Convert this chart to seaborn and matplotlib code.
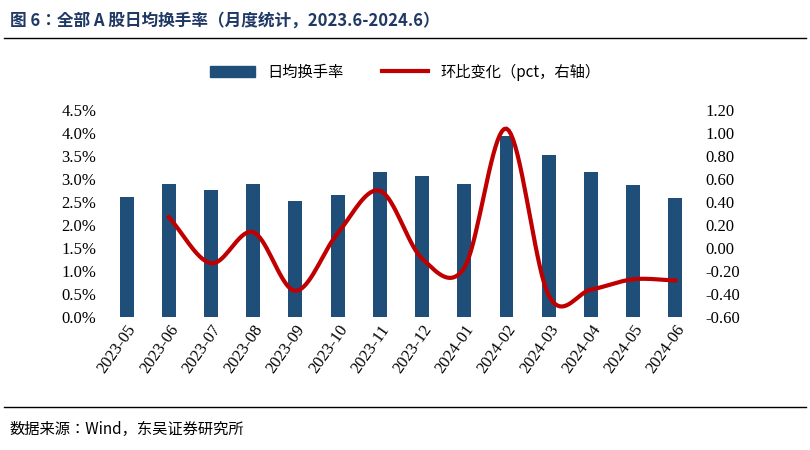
import numpy as np
import pandas as pd
import seaborn as sns
import matplotlib.pyplot as plt
from matplotlib.lines import Line2D

cjk = ['Noto Sans CJK SC', 'Noto Sans CJK JP', 'Noto Sans CJK TC', 'DejaVu Sans']
plt.rcParams['font.family'] = ['Liberation Serif'] + cjk

months = ['2023-05', '2023-06', '2023-07', '2023-08', '2023-09', '2023-10', '2023-11',
          '2023-12', '2024-01', '2024-02', '2024-03', '2024-04', '2024-05', '2024-06']
turnover = [2.62, 2.89, 2.76, 2.90, 2.53, 2.66, 3.15, 3.06, 2.89, 3.93, 3.52, 3.15, 2.88, 2.60]
change = [np.nan, 0.27, -0.13, 0.14, -0.37, 0.13, 0.50, -0.09, -0.17, 1.04, -0.41, -0.36, -0.27, -0.28]

bar_color = '#1F4E79'
line_color = '#C00000'

fig = plt.figure(figsize=(8.1, 4.5), dpi=100)
ax = fig.add_axes([0.125, 0.295, 0.74, 0.46])
df = pd.DataFrame({'month': months, 'turnover': turnover, 'change': change})
sns.barplot(data=df, x='month', y='turnover', color=bar_color, width=0.33, ax=ax, saturation=1)
ax.set_ylim(0, 4.5)
ax.set_yticks(np.arange(0, 4.51, 0.5))
ax.set_yticklabels([f'{v:.1f}%' for v in np.arange(0, 4.51, 0.5)], fontsize=12)
ax.set_xlabel('')
ax.set_ylabel('')
ax.set_xticks(range(len(months)))
ax.set_xticklabels(months, rotation=55, ha='right', rotation_mode='anchor', fontsize=12)
ax.tick_params(length=0)
ax.set_xlim(-0.6, len(months) - 0.4)

# smooth curve (Catmull-Rom) through the monthly points
xs = np.arange(1, len(months), dtype=float)
ys = np.array(change[1:])
px = np.concatenate([[2 * xs[0] - xs[1]], xs, [2 * xs[-1] - xs[-2]]])
py = np.concatenate([[2 * ys[0] - ys[1]], ys, [2 * ys[-1] - ys[-2]]])
cx, cy = [], []
t = np.linspace(0, 1, 20)
for i in range(1, len(px) - 2):
    for arr, out in ((px, cx), (py, cy)):
        p0, p1, p2, p3 = arr[i - 1:i + 3]
        out.extend(0.5 * (2 * p1 + (-p0 + p2) * t + (2 * p0 - 5 * p1 + 4 * p2 - p3) * t ** 2
                          + (-p0 + 3 * p1 - 3 * p2 + p3) * t ** 3))
ax2 = ax.twinx()
sns.lineplot(x=cx, y=cy, color=line_color, lw=3, ax=ax2, sort=False)
ax2.set_ylim(-0.6, 1.2)
ax2.set_yticks(np.arange(-0.6, 1.21, 0.2))
ax2.set_yticklabels([f'{v:.2f}' for v in np.arange(-0.6, 1.21, 0.2)], fontsize=12)
ax2.tick_params(length=0)
for a in (ax, ax2):
    for s in a.spines.values():
        s.set_visible(False)

handles = [plt.Rectangle((0, 0), 1, 1, color=bar_color), Line2D([], [], color=line_color, lw=3)]
fig.legend(handles, ['日均换手率', '环比变化（pct，右轴）'], loc='center', bbox_to_anchor=(0.5, 0.84),
           ncol=2, frameon=False, prop={'family': cjk, 'size': 11},
           handlelength=3, columnspacing=2.5)

fig.text(0.012, 0.955, '图 6：全部 A 股日均换手率（月度统计，2023.6-2024.6）', fontsize=12,
         fontweight='bold', family=cjk, va='center', color='#1F3864')
fig.add_artist(Line2D([0.005, 0.995], [0.915, 0.915], color='black', lw=1))
fig.add_artist(Line2D([0.005, 0.995], [0.095, 0.095], color='black', lw=1))
fig.text(0.012, 0.045, '数据来源：Wind，东吴证券研究所', fontsize=11, family=cjk, va='center')

fig.savefig('out.png', dpi=100)
